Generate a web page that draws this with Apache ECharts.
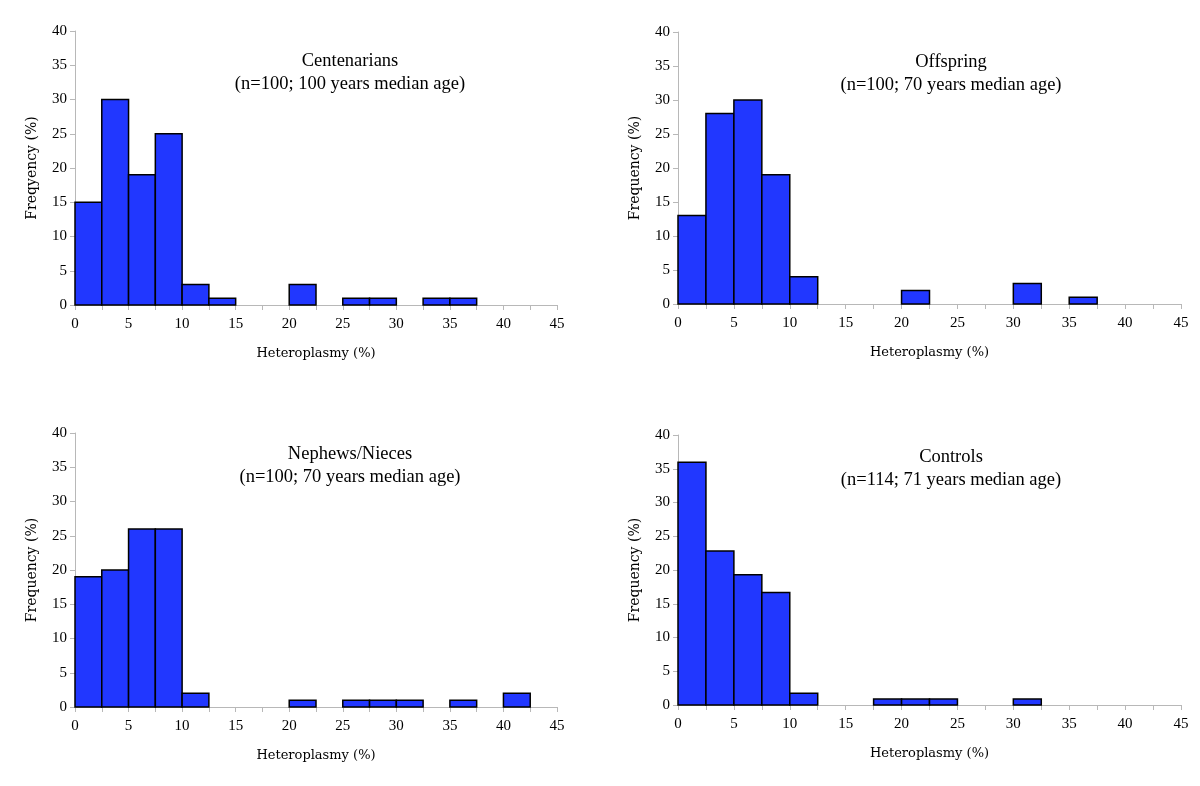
<!DOCTYPE html>
<html>
<head>
<meta charset="utf-8">
<script src="https://cdn.jsdelivr.net/npm/echarts@6/dist/echarts.min.js"></script>
<style>html,body{margin:0;padding:0;background:#fff;}#c{width:1200px;height:786px;}</style>
</head>
<body>
<div id="c"></div>
<script>
// Bin edges (heteroplasmy %, width 2.5)
const binStarts = [0,2.5,5,7.5,10,12.5,15,17.5,20,22.5,25,27.5,30,32.5,35,37.5,40,42.5];
const binWidth = 2.5;
const xTicks = [0,5,10,15,20,25,30,35,40,45];
const yTicks = [0,5,10,15,20,25,30,35,40];

// Frequencies (%) per bin
const centenarians = [15,30,19,25,3,1,0,0,3,0,1,1,0,1,1,0,0,0];
const offspring    = [13,28,30,19,4,0,0,0,2,0,0,0,3,0,1,0,0,0];
const nephews      = [19,20,26,26,2,0,0,0,1,0,1,1,1,0,1,0,2,0];
const controls     = [35.96,22.81,19.30,16.67,1.75,0,0,0.88,0.88,0.88,0,0,0.88,0,0,0,0,0];

const panelTitles = ['Centenarians','Offspring','Nephews/Nieces','Controls'];
const panelSubtitles = ['(n=100; 100 years median age)','(n=100; 70 years median age)','(n=100; 70 years median age)','(n=114; 71 years median age)'];
const yNames = ['Freqyency (%)','Frequency (%)','Frequency (%)','Frequency (%)'];
const xName = 'Heteroplasmy (%)';
const allSeries = [centenarians, offspring, nephews, controls];

const FONT = 'Liberation Serif';
const NAMEFONT = 'DejaVu Serif';
const grids = [
  {left:75, width:482, top:31, height:274},
  {left:678, width:503, top:32, height:272},
  {left:75, width:482, top:433, height:274},
  {left:678, width:503, top:435, height:270}
];
const titlePos = [[345,45],[946,46],[345,438],[946,441]];

const option = {
  animation:false,
  backgroundColor:'#fff',
  title: panelTitles.map((t,i)=>({
    text: t + '\n' + panelSubtitles[i],
    left: titlePos[i][0], top: titlePos[i][1], textAlign:'center',
    textStyle:{fontFamily:FONT, fontSize:18.5, fontWeight:'normal', color:'#000', lineHeight:23}
  })),
  grid: grids,
  xAxis: grids.map((g,i)=>({
    type:'value', gridIndex:i, min:0, max:45, interval:2.5,
    name:xName, nameLocation:'middle', nameGap:42,
    nameTextStyle:{fontFamily:NAMEFONT, fontSize:13, color:'#000'},
    axisLine:{show:true, lineStyle:{color:'#b8b8b8', width:1}},
    axisTick:{show:true, length:5, lineStyle:{color:'#b8b8b8'}},
    axisLabel:{fontFamily:FONT, fontSize:15, color:'#000', margin:12,
      formatter:v=> xTicks.indexOf(v)>=0 ? String(v) : ''},
    splitLine:{show:false}
  })),
  yAxis: grids.map((g,i)=>({
    type:'value', gridIndex:i, min:0, max:40, interval:5,
    name:yNames[i], nameLocation:'middle', nameGap:36, nameRotate:90,
    nameTextStyle:{fontFamily:NAMEFONT, fontSize:14, color:'#000'},
    axisLine:{show:true, lineStyle:{color:'#b8b8b8', width:1}},
    axisTick:{show:true, length:5, lineStyle:{color:'#b8b8b8'}},
    axisLabel:{fontFamily:FONT, fontSize:15, color:'#000', margin:8,
      formatter:v=> yTicks.indexOf(v)>=0 ? String(v) : ''},
    splitLine:{show:false}
  })),
  series: allSeries.map((vals,i)=>({
    type:'custom', xAxisIndex:i, yAxisIndex:i,
    data: binStarts.map((s,j)=>[s, s+binWidth, vals[j]]).filter(d=>d[2]>0),
    renderItem:(params, api)=>{
      const p0 = api.coord([api.value(0), api.value(2)]);
      const p1 = api.coord([api.value(1), 0]);
      return {type:'rect', shape:{x:p0[0], y:p0[1], width:p1[0]-p0[0], height:p1[1]-p0[1]},
        style:{fill:'#2137ff', stroke:'#000', lineWidth:1.5}};
    },
    encode:{x:[0,1], y:2}
  }))
};
const chart = echarts.init(document.getElementById('c'), null, {renderer:'canvas'});
chart.setOption(option);
</script>
</body>
</html>
